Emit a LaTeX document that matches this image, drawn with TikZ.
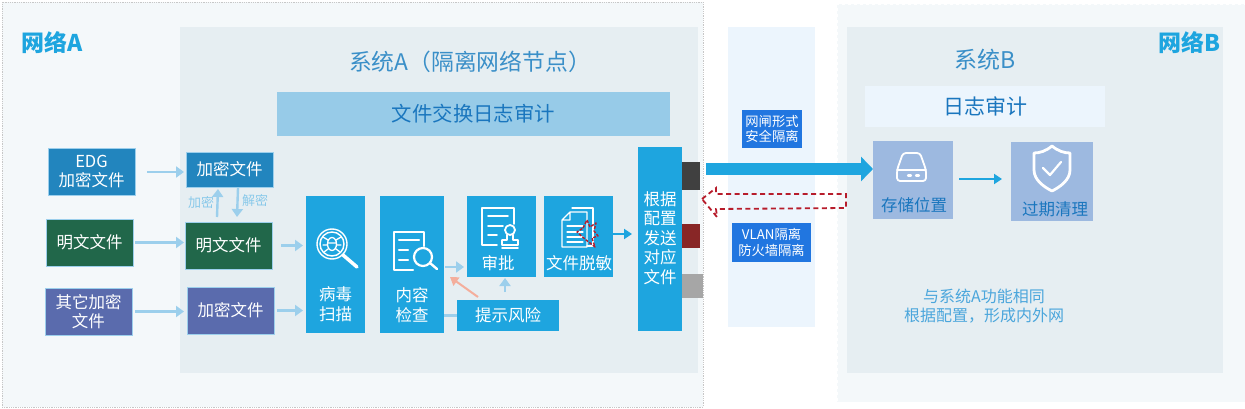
\documentclass[tikz,border=0pt]{standalone}
\usepackage{fontspec}
\setmainfont{Noto Sans CJK SC}
\usetikzlibrary{arrows.meta,calc}
\definecolor{netbg}{HTML}{F4F8FA}
\definecolor{sysbg}{HTML}{E6EEF2}
\definecolor{cbar}{HTML}{97CBE8}
\definecolor{cblue}{HTML}{2285BE}
\definecolor{cgreen}{HTML}{21674A}
\definecolor{cviolet}{HTML}{5A6BAD}
\definecolor{ccyan}{HTML}{1EA5DF}
\definecolor{cpale}{HTML}{ECF5FD}
\definecolor{clabel}{HTML}{2176E0}
\definecolor{cstore}{HTML}{9DB9E0}
\definecolor{clight}{HTML}{9CCFEC}
\definecolor{ctitle}{HTML}{3A8FC8}
\definecolor{cnote}{HTML}{4BA6DC}
\definecolor{cdeep}{HTML}{1A76BE}
\definecolor{cred}{HTML}{B71C2B}
\definecolor{csalmon}{HTML}{F4AE9C}
\tikzset{
 x=1pt,y=-1pt,
 bx/.style 2 args={inner sep=0pt,outer sep=0pt,align=center,minimum width=#1 pt,minimum height=#2 pt},
 filebox/.style={text=white,font=\fontsize{16.5}{20}\selectfont,draw=clight,line width=.4pt},
 tallbox/.style={fill=ccyan},
 boxtxt/.style={inner sep=0pt,align=center,text=white,font=\fontsize{16.5}{19.6}\selectfont},
 tag/.style={fill=clabel,text=white,font=\fontsize{13.3}{15.5}\selectfont},
 arr/.style={draw=clight,line width=2.4pt,-{Triangle[length=8pt,width=11pt]}},
 arrc/.style={draw=ccyan,line width=2pt,-{Triangle[length=8pt,width=10pt]}},
 icon/.style={draw=white,line width=1.8pt,line cap=round,line join=round},
}
\begin{document}
\begin{tikzpicture}
\useasboundingbox (0,0) rectangle (1245,409);
\fill[white] (0,0) rectangle (1245,409);
% backgrounds
\node[bx={701}{405},fill=netbg,draw=black!22,densely dotted,line width=.8pt] (netA) at (352.5,204.5) {};
\node[bx={408}{398},fill=netbg,draw=white,dashed] (netB) at (1041,203) {};
\node[bx={518}{346},fill=sysbg] (sysA) at (439,200) {};
\node[bx={376}{346},fill=sysbg] (sysB) at (1035,200) {};
\node[bx={87}{300},fill=cpale] (gate) at (771.5,177) {};
% titles
\node[inner sep=0pt,text=ccyan,font=\fontsize{23}{26}\selectfont\bfseries] (tA) at (52,43) {网络A};
\node[inner sep=0pt,text=ccyan,font=\fontsize{23}{26}\selectfont\bfseries] (tB) at (1189,43) {网络B};
\node[inner sep=0pt,text=ctitle,font=\fontsize{22.8}{26}\selectfont] (tSA) at (470,62) {系统A（隔离网络节点）};
\node[inner sep=0pt,text=ctitle,font=\fontsize{23}{26}\selectfont] (tSB) at (985,60) {系统B};
\node[bx={393}{44},fill=cbar,text=cdeep,font=\fontsize{20.4}{24}\selectfont] (audA) at (473.5,114) {文件交换日志审计};
\node[bx={240}{41},fill=cpale,text=cdeep,font=\fontsize{21}{24}\selectfont] (audB) at (985,106.5) {日志审计};
% file boxes left
\node[bx={87}{47},filebox,fill=cblue] (edg) at (91.5,171.5) {EDG\\[-1pt]加密文件};
\node[bx={87}{47},filebox,fill=cgreen] (plainL) at (89.5,242.5) {明文文件};
\node[bx={87}{47},filebox,fill=cviolet] (otherL) at (88.5,311.5) {其它加密\\[-1pt]文件};
\node[bx={87}{35},filebox,fill=cblue] (encM) at (229.5,169.5) {加密文件};
\node[bx={87}{47},filebox,fill=cgreen] (plainM) at (228.5,245.5) {明文文件};
\node[bx={87}{47},filebox,fill=cviolet] (otherM) at (230.5,310.5) {加密文件};
% tall boxes
\node[bx={59}{137},tallbox] (virus) at (335.5,264.5) {};
\node[bx={64}{137},tallbox] (content) at (412,264.5) {};
\node[bx={69}{81},tallbox] (approve) at (501.5,236.5) {};
\node[bx={69}{81},tallbox] (mask) at (578.5,236.5) {};
\node[bx={102}{31},tallbox,text=white,font=\fontsize{16.5}{20}\selectfont] (risk) at (508,315.5) {提示风险};
\node[bx={44}{184},tallbox] (send) at (660,239) {};
\node[boxtxt] (virusT) at (335.5,304) {病毒\\扫描};
\node[boxtxt] (contentT) at (412,305) {内容\\检查};
\node[boxtxt] (approveT) at (498,263) {审批};
\node[boxtxt] (maskT) at (579,263) {文件脱敏};
\node[boxtxt] (sendT) at (660,238) {根据\\配置\\发送\\对应\\文件};
% ports
\node[bx={18}{28},fill=black!75] (p1) at (691,176) {};
\node[bx={18}{24},fill=red!45!black!85] (p2) at (691,236) {};
\node[bx={21}{24},fill=black!35] (p3) at (692.5,286) {};
% tags
\node[bx={60}{38},tag] (tag1) at (772,129) {网闸形式\\安全隔离};
\node[bx={79}{39},tag] (tag2) at (771.5,242.5) {VLAN隔离\\防火墙隔离};
% B boxes
\node[bx={80}{78},fill=cstore] (store) at (913,180) {};
\node[bx={82}{79},fill=cstore] (clean) at (1052,181.5) {};
\node[inner sep=0pt,text=cdeep,font=\fontsize{16.5}{20}\selectfont] (storeT) at (914,205) {存储位置};
\node[inner sep=0pt,text=cdeep,font=\fontsize{16.5}{20}\selectfont] (cleanT) at (1055,209) {过期清理};
\node[inner sep=0pt,align=center,text=cnote,font=\fontsize{16}{19}\selectfont] (noteB) at (984,306) {与系统A功能相同\\根据配置，形成内外网};
% small labels
\node[inner sep=0pt,text=clight!85!ccyan,font=\fontsize{13}{15}\selectfont] (lEnc) at (201,203) {加密};
\node[inner sep=0pt,text=clight!85!ccyan,font=\fontsize{13}{15}\selectfont] (lDec) at (255,201) {解密};
% connectors
\draw[arr] ([xshift=12pt,yshift=-.5pt]edg.east) -- ([xshift=-2pt,yshift=-2.5pt]encM.west);
\draw[arr] ([xshift=2pt]plainL.east) -- ([xshift=-1pt,yshift=3pt]plainM.west);
\draw[arr] ([xshift=3pt]otherL.east) -- ([xshift=-3pt,yshift=-1pt]otherM.west);
\draw[arr] ([xshift=9pt]plainM.east) -- ([xshift=-3pt]plainM.east -| virus.west);
\draw[arr] ([xshift=3pt]otherM.east) -- ([xshift=-3pt]otherM.east -| virus.west);
\draw[arr] ([xshift=-11.5pt,yshift=5pt]plainM.north) -- ([xshift=-11.5pt,yshift=-2pt]encM.south);
\draw[arr] ([xshift=8.5pt,yshift=-1pt]encM.south) -- ([xshift=8.5pt,yshift=5pt]plainM.north);
\draw[arr] ([xshift=1pt,yshift=-2.5pt]content.east) -- ([xshift=-3pt,yshift=-2.5pt]content.east -| approve.west);
\draw[arr] ([xshift=-3pt,yshift=8pt]risk.north) -- ([yshift=-1pt]approve.south -| 505,0);
\draw[draw=clight,line width=2.4pt] (risk.west) -- (risk.west -| content.east);
\draw[draw=csalmon,line width=2pt,-{Triangle[length=8pt,width=10pt]}] ([xshift=-30pt,yshift=3pt]risk.north) -- ([xshift=6pt]content.east |- approve.south);
\draw[arrc] ([yshift=2.5pt]mask.east) -- ([xshift=-6pt,yshift=2.5pt]mask.east -| send.west);
\draw[arrc] (959,179) coordinate (sA) -- (1002,179) coordinate (sB);
\draw[draw=ccyan,line width=12pt,-{Triangle[length=12pt,width=24pt]}] ([xshift=6pt,yshift=7pt]p1.east) -- ([yshift=11pt]store.west);
% dashed hollow arrow
\draw[draw=cred,line width=1.8pt,dash pattern=on 5pt off 3.5pt] (702,199) -- (716,188) -- (716,194) -- (846,194) -- (846,208) -- (716,209) -- (717,217) -- cycle;
% bug icon
\draw[icon,line width=1.4pt] (332,244) circle (15) (332,244) circle (12);
\draw[icon,line width=3.5pt] (343,255) -- (357,267);
\draw[icon,line width=1.3pt] (332,244) ellipse (4.5 and 6.5) (328,243) -- (336,243) (328,240) -- (323,237) (336,240) -- (341,237) (327.5,245) -- (323,245) (336.5,245) -- (341,245) (328,249) -- (324,252) (336,249) -- (340,252);
% content doc icon
\draw[icon,line width=2.1pt] (424,246) -- (424,232) -- (394,232) -- (394,270) -- (413,270);
\draw[icon,line width=2.1pt] (399,240) -- (419,240) (399,250) -- (408,250) (399,260) -- (408,260);
\draw[icon,line width=2.2pt] (423,257) circle (9);
\draw[icon,line width=2.4pt] (430,263) -- (437,269);
% stamp icon
\draw[icon] (514,224) -- (514,208) -- (482,208) -- (482,245) -- (497,245);
\draw[icon] (488,216) -- (508,216) (488,226) -- (503,226) (488,235) -- (497,235);
\draw[icon] (510,230) circle (5) (507,235) -- (507,240) -- (502,240) -- (502,245) -- (518,245) -- (518,240) -- (513,240) -- (513,235) (502,248) -- (518,248);
% masked document icon
\draw[icon,line width=1.1pt] (572,208) -- (593,208) -- (593,246) -- (587,246);
\draw[icon,line width=1.1pt] (570,212) -- (562,220) -- (562,247) -- (587,247) -- (587,212) -- (570,212) -- (570,220) -- (562,220);
\draw[icon,line width=1.1pt] (567,226) -- (583,226) (567,232) -- (583,232) (567,237) -- (583,237) (567,242) -- (583,242);
\draw[draw=cred,line width=1.4pt,line join=round,dash pattern=on 3pt off 1.5pt] (583,228) -- (587,220) -- (590,227) -- (596,223) -- (594,231) -- (598,236) -- (592,238) -- (595,247) -- (590,243) -- (586,240) -- (577,232) -- cycle;
% disk icon
\draw[icon,line width=1.8pt,rounded corners=3pt] (897,170) -- (903,153) -- (920,153) -- (926,170) -- (926,181) -- (897,181) -- cycle;
\draw[icon,line width=1.8pt] (897,170) -- (926,170);
\draw[icon,line width=2.2pt] (908,175.5) -- (911,175.5) (916,175.5) -- (919,175.5);
% shield icon
\draw[icon,line width=2.8pt] (1052,146) .. controls (1058,151) and (1064,153) .. (1070,153) -- (1070,170) .. controls (1070,180) and (1060,187) .. (1052,191) .. controls (1044,187) and (1034,180) .. (1034,170) -- (1034,153) .. controls (1040,153) and (1046,151) .. (1052,146) -- cycle;
\draw[icon,line width=2.2pt] (1043,168) -- (1050,175) -- (1061,162);
\end{tikzpicture}
\end{document}
